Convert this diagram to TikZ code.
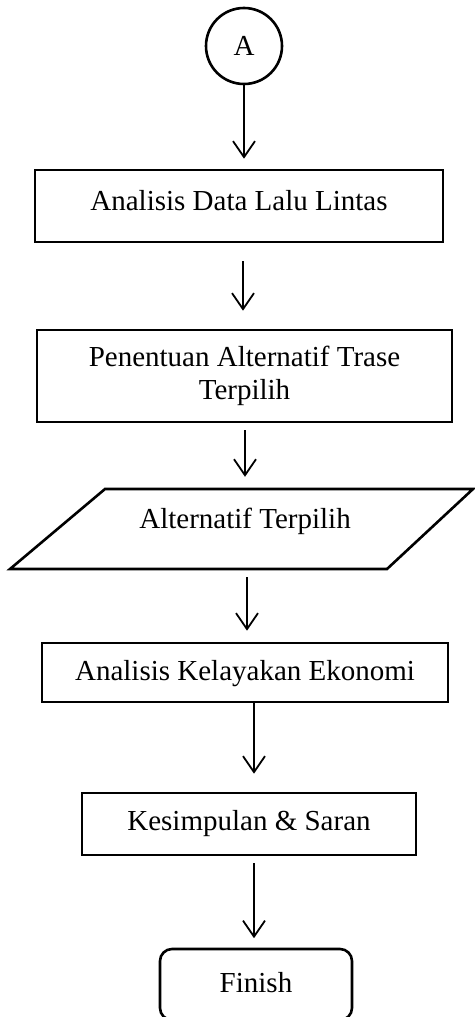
\documentclass[tikz,border=0pt]{standalone}
\usepackage{fontspec}
\setmainfont{Liberation Serif}
\usetikzlibrary{arrows.meta}
\begin{document}
\begin{tikzpicture}[x=1pt,y=-1pt,
  every node/.style={font=\fontsize{29}{33}\selectfont, inner sep=0pt},
  box/.style={draw, line width=2.6pt, rectangle, text height=20pt, text depth=8pt},
  arr/.style={line width=1.8pt, -{Straight Barb[length=16pt,width=22pt,line width=1.8pt]}}
]
\useasboundingbox (0,0) rectangle (474,1017);
\node[draw, circle, line width=2.6pt, minimum size=76pt] (A) at (244,46) {A};
\node[box, minimum width=408pt, minimum height=72pt, text depth=12pt] (b1) at (239,206) {Analisis Data Lalu Lintas};
\node[draw, line width=2.6pt, rectangle, align=center, minimum width=415pt, minimum height=92pt] (b2) at (244.5,376) {Penentuan Alternatif Trase\\Terpilih};
\draw[line width=2.6pt, line join=miter] (105,489) -- (473,489) -- (387,569) -- (10,569) -- cycle;
\node[minimum width=280pt, minimum height=80pt, text height=20pt, text depth=22pt] (para) at (245,529) {Alternatif Terpilih};
\node[box, minimum width=406pt, minimum height=59pt, text depth=5pt] (b4) at (245,672.5) {Analisis Kelayakan Ekonomi};
\node[box, minimum width=334pt, minimum height=62pt] (b5) at (249,824) {Kesimpulan \& Saran};
\node[box, rounded corners=12pt, minimum width=192pt, minimum height=71pt, text depth=5pt] (fin) at (256,984.5) {Finish};
\draw[arr, shorten <=0pt, shorten >=10pt] (A.south) -- (b1.north -| A.south);
\draw[arr, shorten <=18pt, shorten >=18pt] ([xshift=4pt]b1.south) -- ([xshift=-1.5pt]b2.north);
\draw[arr, shorten <=7pt, shorten >=12pt] ([xshift=0.5pt]b2.south) -- (para.north);
\draw[arr, shorten <=8pt, shorten >=11pt] ([xshift=2pt]para.south) -- ([xshift=2pt]b4.north);
\draw[arr, shorten <=0pt, shorten >=18pt] ([xshift=9pt]b4.south) -- ([xshift=5pt]b5.north);
\draw[arr, shorten <=7pt, shorten >=9.5pt] ([xshift=5pt]b5.south) -- ([xshift=-2pt]fin.north);
\end{tikzpicture}
\end{document}
